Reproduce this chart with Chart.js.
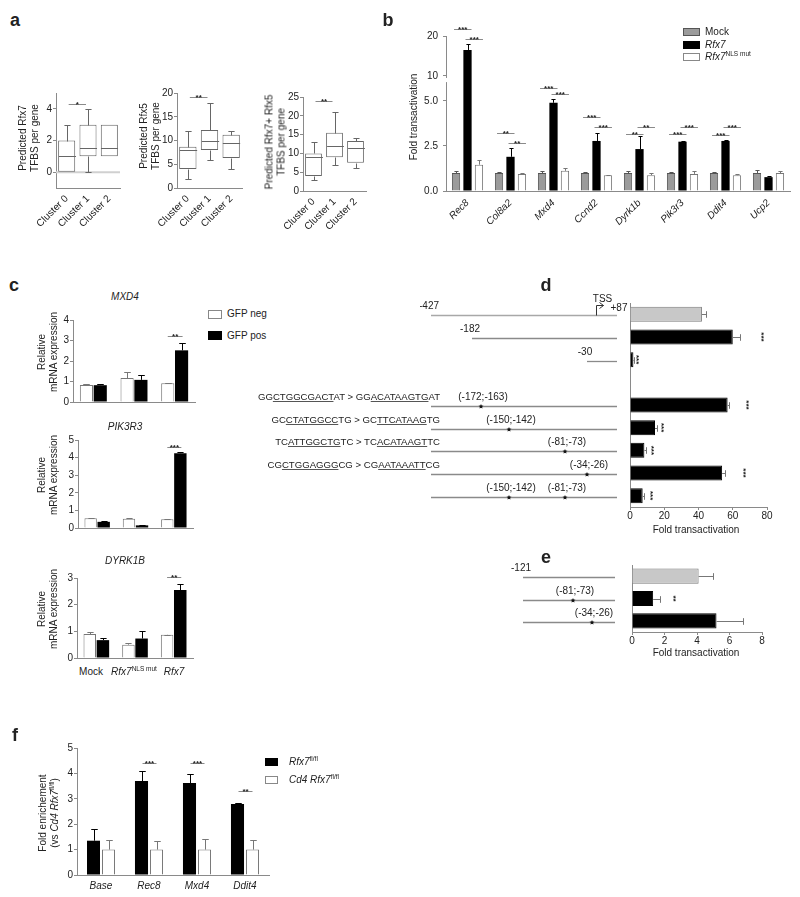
<!DOCTYPE html>
<html>
<head>
<meta charset="utf-8">
<script src="https://cdn.jsdelivr.net/npm/chart.js@4.4.0/dist/chart.umd.min.js"></script>
<style>
body { margin: 0; background: #fff; }
#fig { position: relative; width: 800px; height: 897px; overflow: hidden; font-family: "Liberation Sans", Arial, sans-serif; color: #222; }
#fig canvas { position: absolute; }
.t { position: absolute; white-space: nowrap; font-size: 10px; line-height: 12px; }
.v { position: absolute; white-space: nowrap; font-size: 10px; line-height: 11.5px; text-align: center; transform: translate(-50%, -50%) rotate(-90deg); }
.sq { position: absolute; box-sizing: border-box; }
sup { font-size: 6.5px; line-height: 0; vertical-align: 4px; }
u { text-decoration-color: #555; }
</style>
</head>
<body>
<div id="fig"></div>
<script>
// ---- a: predicted TFBS per gene (min, q1, median, q3, max)
const clusters = ['Cluster 0', 'Cluster 1', 'Cluster 2'];
const rfx7Box = [[0, 0, 1, 2, 3], [0, 1, 1.5, 3, 4], [1, 1, 1.5, 3, 3]];
const rfx5Box = [[2, 4, 8, 8.7, 12], [6, 8, 10, 12.2, 18], [4, 6.3, 9.5, 11.2, 12]];
const bothBox = [[3, 4, 9, 10, 13], [7, 9, 12, 15.5, 21], [6, 7.5, 11.5, 13.3, 14]];
const sigRfx7 = [[0, 1, 4.3, '*']];
const sigRfx5 = [[0, 1, 19.2, '**']];
const sigBoth = [[0, 1, 23.9, '**']];

// ---- b: fold transactivation
const genesB = ['Rec8', 'Col8a2', 'Mxd4', 'Ccnd2', 'Dyrk1b', 'Pik3r3', 'Ddit4', 'Ucp2'];
const mockB = [1.0, 1.0, 1.0, 1.0, 1.0, 1.0, 1.0, 1.0];
const mockErrB = [0.1, 0.05, 0.1, 0.04, 0.1, 0.06, 0.04, 0.15];
const rfx7B = [16.5, 1.9, 4.9, 2.78, 2.33, 2.74, 2.78, 0.77];
const rfx7ErrB = [1.5, 0.5, 0.2, 0.42, 0.75, 0.05, 0.05, 0.08];
const nlsB = [1.46, 0.95, 1.12, 0.88, 0.88, 0.95, 0.88, 1.0];
const nlsErrB = [0.25, 0.07, 0.15, 0.02, 0.1, 0.15, 0.04, 0.1];
const ticksB = [0, 2.5, 5, 10, 20];
const tickLabelsB = ['0.0', '2.5', '5.0', '10', '20'];
// [gene index, dataset a, dataset b, height, label]
const sigB = [
    [0, 0, 1, 21.8, '***'], [0, 1, 2, 19.2, '***'],
    [1, 0, 1, 3.22, '**'], [1, 1, 2, 2.67, '**'],
    [2, 0, 1, 5.72, '***'], [2, 1, 2, 5.39, '***'],
    [3, 0, 1, 4.11, '***'], [3, 1, 2, 3.56, '***'],
    [4, 0, 1, 3.17, '**'], [4, 1, 2, 3.56, '**'],
    [5, 0, 1, 3.17, '***'], [5, 1, 2, 3.56, '***'],
    [6, 0, 1, 3.11, '***'], [6, 1, 2, 3.56, '***']
];

// ---- c: relative mRNA expression
const groupsC = ['Mock', 'Rfx7 NLS mut', 'Rfx7'];
const mxd4Neg = [0.83, 1.17, 0.92], mxd4NegErr = [0.07, 0.28, 0.02];
const mxd4Pos = [0.82, 1.08, 2.52], mxd4PosErr = [0.07, 0.23, 0.37];
const pik3r3Neg = [0.55, 0.52, 0.5], pik3r3NegErr = [0.03, 0.05, 0.01];
const pik3r3Pos = [0.35, 0.15, 4.25], pik3r3PosErr = [0.05, 0.03, 0.05];
const dyrk1bNeg = [0.9, 0.5, 0.87], dyrk1bNegErr = [0.06, 0.08, 0.01];
const dyrk1bPos = [0.67, 0.73, 2.55], dyrk1bPosErr = [0.08, 0.28, 0.23];
const sigMxd4 = [[2, 0, 1, 3.2, '**']];
const sigPik3r3 = [[2, 0, 1, 4.6, '***']];
const sigDyrk1b = [[2, 0, 1, 3.05, '**']];

// ---- d: promoter constructs
const rowsD = ['-427/+87', '-182/+87', '-30/+87', '', 'mut -172', 'mut -150', 'mut -81', 'mut -34', 'mut -150/-81'];
const valsD = [42, 60, 2, null, 57, 14.6, 8.4, 53.8, 7.4];
const errD = [2.5, 4, 0.5, null, 0.8, 1, 1, 1.5, 0.5];
const startsD = [-427, -182, -30, null, -427, -427, -427, -427, -427];
const sitesD = [[], [], [], [], [[-172, -163]], [[-150, -142]], [[-81, -73]], [[-34, -26]], [[-150, -142], [-81, -73]]];
const starsD = [[1, 78, '***'], [2, 4.5, '***'], [4, 69, '***'], [5, 19.5, '***'], [6, 13.5, '***'], [7, 67, '***'], [8, 13, '***']];
const seqsD = [
    [4, 'GG<u>CTGGCGACT</u>AT &gt; GG<u>ACATAAGTG</u>AT'],
    [5, 'GC<u>CTATGGCC</u>TG &gt; GC<u>TTCATAAG</u>TG'],
    [6, 'TC<u>ATTGGCTG</u>TC &gt; TC<u>ACATAAGT</u>TC'],
    [7, 'CG<u>CTGGAGGG</u>CG &gt; CG<u>AATAAATT</u>CG']
];

// ---- e
const rowsE = ['-121/+87', 'mut -81', 'mut -34'];
const valsE = [4.1, 1.3, 5.2];
const errE = [0.9, 0.4, 1.6];
const startsE = [-121, -121, -121];
const sitesE = [[], [[-81, -73]], [[-34, -26]]];
const starsE = [[1, 2.65, '**']];

// ---- f: ChIP enrichment
const targetsF = ['Base', 'Rec8', 'Mxd4', 'Ddit4'];
const floxF = [1.35, 3.7, 3.62, 2.8], floxErrF = [0.46, 0.4, 0.36, 0.02];
const cd4F = [1, 1, 1, 1], cd4ErrF = [0.37, 0.33, 0.43, 0.38];
const sigF = [[1, 0, 1, 4.42, '***'], [2, 0, 1, 4.42, '***'], [3, 0, 1, 3.3, '**']];

const FONT = '"Liberation Sans", Arial, sans-serif';
const AXC = '#8a8a8a';
Chart.defaults.font.family = FONT;
Chart.defaults.font.size = 10;
Chart.defaults.color = '#222';

const fig = document.getElementById('fig');

function put(html, x, y, anchor, css) {
    const d = document.createElement('div');
    d.className = 't';
    d.innerHTML = html;
    const tx = anchor === 'l' ? '0' : anchor === 'r' ? '-100%' : '-50%';
    d.style.cssText = `left:${x}px;top:${y}px;transform:translate(${tx},-50%);` + (css || '');
    fig.appendChild(d);
}

function vput(html, x, y) {
    const d = document.createElement('div');
    d.className = 'v';
    d.innerHTML = html;
    d.style.left = x + 'px';
    d.style.top = y + 'px';
    fig.appendChild(d);
}

function sq(x, y, w, h, fill, border) {
    const d = document.createElement('div');
    d.className = 'sq';
    d.style.cssText = `left:${x}px;top:${y}px;width:${w}px;height:${h}px;background:${fill};border:1px solid ${border};`;
    fig.appendChild(d);
}

// canvas sized so the chart area lands on area = [left, top, right, bottom]
function makeCanvas(area, yw, xh, pad) {
    const c = document.createElement('canvas');
    const left = area[0] - yw - pad.left, top = area[1] - pad.top;
    c.width = area[2] + pad.right - left;
    c.height = area[3] + xh - top;
    c.style.left = left + 'px';
    c.style.top = top + 'px';
    fig.appendChild(c);
    return c;
}

function baseOptions(pad) {
    return {
        responsive: false,
        animation: false,
        devicePixelRatio: 1,
        layout: { padding: pad },
        plugins: { legend: { display: false }, tooltip: { enabled: false } }
    };
}

function zeroPad(s) {
    s.paddingLeft = s.paddingRight = s.paddingTop = s.paddingBottom = 0;
}

function valueAxis(min, max, ticks, size, vertical, extra) {
    extra = extra || {};
    const o = {
        type: 'linear', min, max,
        afterBuildTicks: s => { s.ticks = ticks.map(v => ({ value: v })); },
        afterFit: s => { zeroPad(s); if (vertical) s.width = size; else s.height = size; },
        border: { color: AXC },
        grid: { drawOnChartArea: false, tickLength: 3, tickColor: AXC },
        ticks: { padding: 1, font: { size: 10 } }
    };
    if (extra.ticks) o.ticks = Object.assign({}, o.ticks, extra.ticks);
    if (extra.grid) o.grid = Object.assign({}, o.grid, extra.grid);
    return o;
}

function catAxis(size, vertical, ticks) {
    return {
        type: 'category',
        afterFit: s => { zeroPad(s); if (vertical) s.width = size; else s.height = size; },
        border: { color: AXC },
        grid: { display: false },
        ticks: Object.assign({ padding: 3, font: { size: 10 } }, ticks || {})
    };
}

// one-sided error bars; dataset.errHi holds the value at the cap
const errorBars = {
    id: 'errorBars',
    afterDatasetsDraw(chart) {
        const ctx = chart.ctx;
        const horiz = chart.options.indexAxis === 'y';
        const vs = horiz ? chart.scales.x : chart.scales.y;
        chart.data.datasets.forEach((ds, di) => {
            if (!ds.errHi) return;
            ctx.save();
            ctx.strokeStyle = ds.errColor || '#444';
            ctx.lineWidth = 1;
            chart.getDatasetMeta(di).data.forEach((el, i) => {
                if (ds.data[i] == null || ds.errHi[i] == null) return;
                const p = Math.round(vs.getPixelForValue(ds.errHi[i])) + 0.5;
                ctx.beginPath();
                if (horiz) {
                    const y = Math.round(el.y) + 0.5, h = el.height * 0.22;
                    ctx.moveTo(el.x, y); ctx.lineTo(p, y);
                    ctx.moveTo(p, y - h); ctx.lineTo(p, y + h);
                } else {
                    const x = Math.round(el.x) + 0.5, w = el.width * 0.25;
                    ctx.moveTo(x, el.y); ctx.lineTo(x, p);
                    ctx.moveTo(x - w, p); ctx.lineTo(x + w, p);
                }
                ctx.stroke();
            });
            ctx.restore();
        });
    }
};

// whiskers and medians on top of the floating [q1, q3] bars
const boxPlot = {
    id: 'boxPlot',
    beforeDatasetsDraw(chart) {
        const ds = chart.data.datasets[0];
        if (!ds.zeroLine) return;
        const ctx = chart.ctx, y = chart.scales.y.getPixelForValue(0), a = chart.chartArea;
        ctx.save();
        ctx.strokeStyle = '#d0d0d0';
        ctx.lineWidth = 2;
        ctx.beginPath(); ctx.moveTo(a.left, y); ctx.lineTo(a.right, y); ctx.stroke();
        ctx.restore();
    },
    afterDatasetsDraw(chart) {
        const ds = chart.data.datasets[0];
        if (!ds.stats) return;
        const ctx = chart.ctx, ys = chart.scales.y;
        const py = v => Math.round(ys.getPixelForValue(v)) + 0.5;
        ctx.save();
        ctx.strokeStyle = '#666';
        ctx.lineWidth = 1;
        chart.getDatasetMeta(0).data.forEach((el, i) => {
            const [min, q1, med, q3, max] = ds.stats[i];
            const x = Math.round(el.x) + 0.5, hw = el.width / 2, cw = el.width * 0.18;
            ctx.beginPath();
            ctx.moveTo(x - hw, py(med)); ctx.lineTo(x + hw, py(med));
            if (max > q3) {
                ctx.moveTo(x, py(q3)); ctx.lineTo(x, py(max));
                ctx.moveTo(x - cw, py(max)); ctx.lineTo(x + cw, py(max));
            }
            if (min < q1) {
                ctx.moveTo(x, py(q1)); ctx.lineTo(x, py(min));
                ctx.moveTo(x - cw, py(min)); ctx.lineTo(x + cw, py(min));
            }
            ctx.stroke();
        });
        ctx.restore();
    }
};

// significance bar with asterisks; items: {a: [dataset, index], b: [dataset, index], v, t}
function sigPlugin(items, exL, exR) {
    return {
        id: 'sig',
        afterDatasetsDraw(chart) {
            const ctx = chart.ctx, ys = chart.scales.y;
            ctx.save();
            items.forEach(s => {
                const ea = chart.getDatasetMeta(s.a[0]).data[s.a[1]];
                const eb = chart.getDatasetMeta(s.b[0]).data[s.b[1]];
                const y = Math.round(ys.getPixelForValue(s.v)) + 0.5;
                const x0 = ea.x + exL, x1 = eb.x + exR;
                ctx.strokeStyle = '#8a8a8a';
                ctx.lineWidth = 1;
                ctx.beginPath(); ctx.moveTo(x0, y); ctx.lineTo(x1, y); ctx.stroke();
                ctx.fillStyle = '#222';
                ctx.font = 'bold 8px ' + FONT;
                ctx.textAlign = 'center';
                ctx.textBaseline = 'alphabetic';
                ctx.fillText(s.t, (x0 + x1) / 2, y + 2);
            });
            ctx.restore();
        }
    };
}

// vertical asterisks beside horizontal bars
function vStarPlugin(items) {
    return {
        id: 'vstars',
        afterDatasetsDraw(chart) {
            const ctx = chart.ctx, xs = chart.scales.x, ys = chart.scales.y;
            items.forEach(([row, v, t]) => {
                ctx.save();
                ctx.translate(xs.getPixelForValue(v), ys.getPixelForValue(row));
                ctx.rotate(Math.PI / 2);
                ctx.fillStyle = '#222';
                ctx.font = 'bold 8px ' + FONT;
                ctx.textAlign = 'center';
                ctx.textBaseline = 'middle';
                ctx.fillText(t, 0, 2);
                ctx.restore();
            });
        }
    };
}

function drawStar(ctx, x, y, r) {
    ctx.beginPath();
    for (let i = 0; i < 10; i++) {
        const a = -Math.PI / 2 + i * Math.PI / 5, rr = i % 2 ? r * 0.45 : r;
        ctx.lineTo(x + rr * Math.cos(a), y + rr * Math.sin(a));
    }
    ctx.closePath();
    ctx.fillStyle = '#111';
    ctx.fill();
}

function interp(knots, p) {
    for (let i = 1; i < knots.length; i++) {
        if (p <= knots[i][0]) {
            const [p0, x0] = knots[i - 1], [p1, x1] = knots[i];
            return x0 + (x1 - x0) * (p - p0) / (p1 - p0);
        }
    }
    return knots[knots.length - 1][1];
}

// promoter schematics drawn left of the bars; knots map bp position -> px offset from the axis (not to scale)
function constructPlugin(starts, sites, knots, tss) {
    return {
        id: 'constructs',
        afterDraw(chart) {
            const ctx = chart.ctx, ys = chart.scales.y, L = chart.chartArea.left;
            const xp = p => L + interp(knots, p);
            const xEnd = xp(87);
            ctx.save();
            ctx.font = '10px ' + FONT;
            ctx.textAlign = 'center';
            ctx.textBaseline = 'middle';
            starts.forEach((st, r) => {
                if (st == null) return;
                const y = Math.round(ys.getPixelForValue(r)) + 1.5;
                ctx.strokeStyle = r === 0 && tss ? '#a8a8a8' : '#8a8a8a';
                ctx.lineWidth = 1.3;
                ctx.beginPath(); ctx.moveTo(xp(st), y); ctx.lineTo(xEnd, y); ctx.stroke();
                ctx.fillStyle = '#222';
                if (!sites[r].length) ctx.fillText(String(st), xp(st) - 2, y - 9);
                sites[r].forEach(([a, b]) => {
                    const x = xp((a + b) / 2);
                    drawStar(ctx, x, y, 2.6);
                    ctx.fillStyle = '#222';
                    ctx.fillText(`(${a};${b})`, x + 2, y - 9);
                });
                if (tss && r === 0) {
                    const xt = Math.round(xp(0)) + 0.5;
                    ctx.strokeStyle = '#333';
                    ctx.lineWidth = 1;
                    ctx.beginPath();
                    ctx.moveTo(xt, y); ctx.lineTo(xt, y - 10); ctx.lineTo(xt + 7, y - 10);
                    ctx.moveTo(xt + 3, y - 13); ctx.lineTo(xt + 7, y - 10); ctx.lineTo(xt + 3, y - 7);
                    ctx.stroke();
                    ctx.fillText('TSS', xt + 6, y - 16);
                    ctx.textAlign = 'left';
                    ctx.fillText('+87', xt + 14, y - 7);
                    ctx.textAlign = 'center';
                }
            });
            ctx.restore();
        }
    };
}

// ---------- a
function boxChart(area, stats, ymin, ymax, yticks, sig, zeroLine) {
    const pad = { left: 0, top: 8, right: 4, bottom: 0 };
    const cv = makeCanvas(area, 22, 55, pad);
    const opts = baseOptions(pad);
    opts.datasets = { bar: { categoryPercentage: 0.8, barPercentage: 1 } };
    opts.scales = {
        x: catAxis(55, false, { minRotation: 45, maxRotation: 45, autoSkip: false, padding: -3 }),
        y: valueAxis(ymin, ymax, yticks, 22, true)
    };
    new Chart(cv, {
        type: 'bar',
        data: {
            labels: clusters,
            datasets: [{
                data: stats.map(s => [s[1], s[3]]),
                stats: stats,
                zeroLine: zeroLine,
                backgroundColor: '#fff',
                borderColor: '#666',
                borderWidth: 1,
                borderSkipped: false
            }]
        },
        options: opts,
        plugins: [boxPlot, sigPlugin(sig.map(s => ({ a: [0, s[0]], b: [0, s[1]], v: s[2], t: s[3] })), 2, -2)]
    });
}

boxChart([56, 93, 120, 188], rfx7Box, -1, 5, [0, 2, 4], sigRfx7, true);
boxChart([177, 93, 242, 188], rfx5Box, 0, 20, [0, 5, 10, 15, 20], sigRfx5, false);
boxChart([303, 97, 366, 191], bothBox, 0, 25, [0, 5, 10, 15, 20, 25], sigBoth, false);

vput('Predicted Rfx7<br>TFBS per gene', 28, 138);
vput('Predicted Rfx5<br>TFBS per gene', 149, 136);
vput('Predicted Rfx7+ Rfx5<br>TFBS per gene', 275, 142);

// ---------- b (broken y axis: lower part 0-6, upper part 10-20 compressed)
function brk(v) {
    return v <= 6.05 ? v : 6.39 + (v - 10) * 0.222;
}
(function () {
    const pad = { left: 0, top: 16, right: 8, bottom: 0 };
    const area = [446, 36, 790, 191];
    const cv = makeCanvas(area, 32, 45, pad);
    const opts = baseOptions(pad);
    opts.datasets = { bar: { categoryPercentage: 0.8, barPercentage: 0.72 } };
    opts.scales = {
        x: catAxis(45, false, { minRotation: 45, maxRotation: 45, autoSkip: false, padding: -2, font: { size: 10, style: 'italic' } }),
        y: valueAxis(0, brk(20), ticksB.map(brk), 32, true, { ticks: { padding: 5, callback: (v, i) => tickLabelsB[i] } })
    };
    const axisBreak = {
        id: 'axisBreak',
        afterDraw(chart) {
            const ys = chart.scales.y, x = chart.chartArea.left, ctx = chart.ctx;
            const yLo = ys.getPixelForValue(6.05), yHi = ys.getPixelForValue(6.28);
            ctx.save();
            ctx.fillStyle = '#fff';
            ctx.fillRect(x - 5, yHi, 7, yLo - yHi);
            ctx.restore();
        }
    };
    new Chart(cv, {
        type: 'bar',
        data: {
            labels: genesB,
            datasets: [
                { label: 'Mock', data: mockB.map(brk), errHi: mockB.map((v, i) => brk(v + mockErrB[i])),
                  backgroundColor: '#9b9b9b', borderColor: '#555', borderWidth: 1, errColor: '#555' },
                { label: 'Rfx7', data: rfx7B.map(brk), errHi: rfx7B.map((v, i) => brk(v + rfx7ErrB[i])),
                  backgroundColor: '#000', borderColor: '#000', borderWidth: 0, errColor: '#000' },
                { label: 'Rfx7 NLS mut', data: nlsB.map(brk), errHi: nlsB.map((v, i) => brk(v + nlsErrB[i])),
                  backgroundColor: '#fff', borderColor: '#777', borderWidth: 1, errColor: '#777' }
            ]
        },
        options: opts,
        plugins: [errorBars, axisBreak,
            sigPlugin(sigB.map(s => ({ a: [s[1], s[0]], b: [s[2], s[0]], v: brk(s[3]), t: s[4] })), -2, 4)]
    });
})();

vput('Fold transactivation', 414, 117);
sq(683, 28, 17, 8, '#9b9b9b', '#555');
put('Mock', 705, 32, 'l');
sq(683, 41, 17, 8, '#000', '#000');
put('<i>Rfx7</i>', 705, 45, 'l');
sq(683, 53, 17, 8, '#fff', '#888');
put('<i>Rfx7</i><sup>NLS mut</sup>', 705, 57, 'l');

// ---------- c
function pairChart(area, yticks, neg, negErr, pos, posErr, sig) {
    const pad = { left: 0, top: 8, right: 4, bottom: 0 };
    const cv = makeCanvas(area, 20, 4, pad);
    const opts = baseOptions(pad);
    opts.datasets = { bar: { categoryPercentage: 0.68, barPercentage: 0.95 } };
    opts.scales = {
        x: catAxis(4, false, { display: false }),
        y: valueAxis(0, yticks[yticks.length - 1], yticks, 20, true)
    };
    new Chart(cv, {
        type: 'bar',
        data: {
            labels: groupsC,
            datasets: [
                { label: 'GFP neg', data: neg, errHi: neg.map((v, i) => v + negErr[i]),
                  backgroundColor: '#fff', borderColor: '#777', borderWidth: 1, errColor: '#777' },
                { label: 'GFP pos', data: pos, errHi: pos.map((v, i) => v + posErr[i]),
                  backgroundColor: '#000', borderColor: '#000', borderWidth: 0, errColor: '#000' }
            ]
        },
        options: opts,
        plugins: [errorBars, sigPlugin(sig.map(s => ({ a: [s[1], s[0]], b: [s[2], s[0]], v: s[3], t: s[4] })), 0, 1)]
    });
}

pairChart([73, 320, 195, 402], [0, 1, 2, 3, 4], mxd4Neg, mxd4NegErr, mxd4Pos, mxd4PosErr, sigMxd4);
pairChart([78, 440, 193, 528], [0, 1, 2, 3, 4, 5], pik3r3Neg, pik3r3NegErr, pik3r3Pos, pik3r3PosErr, sigPik3r3);
pairChart([77, 578, 193, 658], [0, 1, 2, 3], dyrk1bNeg, dyrk1bNegErr, dyrk1bPos, dyrk1bPosErr, sigDyrk1b);

put('<i>MXD4</i>', 125, 297);
put('<i>PIK3R3</i>', 125, 427);
put('<i>DYRK1B</i>', 125, 561);
vput('Relative<br>mRNA expression', 47, 352);
vput('Relative<br>mRNA expression', 47, 475);
vput('Relative<br>mRNA expression', 47, 609);
put('Mock', 91, 672);
put('<i>Rfx7</i><sup>NLS mut</sup>', 134, 672);
put('<i>Rfx7</i>', 174, 672);
sq(208, 310, 14, 9, '#fff', '#888');
put('GFP neg', 227, 314, 'l');
sq(208, 331, 14, 9, '#000', '#000');
put('GFP pos', 227, 336, 'l');

// ---------- d / e
function hbarChart(area, rows, vals, errs, xmax, xticks, starts, sites, knots, stars, tss, catPct) {
    const pad = { left: area[0] - 420, top: 22, right: 800 - area[2], bottom: 0 };
    const cv = makeCanvas(area, 0, 20, pad);
    const opts = baseOptions(pad);
    opts.indexAxis = 'y';
    opts.datasets = { bar: { categoryPercentage: catPct, barPercentage: 1 } };
    opts.scales = {
        y: catAxis(0, true, { display: false }),
        x: valueAxis(0, xmax, xticks, 20, false, { ticks: { padding: 0 } })
    };
    const chart = new Chart(cv, {
        type: 'bar',
        data: {
            labels: rows,
            datasets: [{
                data: vals,
                errHi: vals.map((v, i) => v == null ? null : v + errs[i]),
                backgroundColor: vals.map((v, i) => i === 0 ? '#c8c8c8' : '#000'),
                borderColor: vals.map((v, i) => i === 0 ? '#7a7a7a' : '#000'),
                borderWidth: 1,
                errColor: '#777'
            }]
        },
        options: opts,
        plugins: [errorBars, vStarPlugin(stars), constructPlugin(starts, sites, knots, tss)]
    });
    return { chart, top: area[1] - pad.top };
}

const knotsD = [[-427, -199], [-182, -158], [-167.5, -149], [-146, -121], [-77, -65], [-30, -43], [0, -34], [87, -13]];
const knotsE = [[-121, -109], [-77, -59], [-30, -40], [87, -17]];

const dPanel = hbarChart([630, 303, 767, 507], rowsD, valsD, errD, 80, [0, 20, 40, 60, 80],
    startsD, sitesD, knotsD, starsD, true, 0.66);
hbarChart([632, 565, 762, 632], rowsE, valsE, errE, 8, [0, 2, 4, 6, 8],
    startsE, sitesE, knotsE, starsE, false, 0.68);

seqsD.forEach(([row, html]) => {
    const y = dPanel.top + dPanel.chart.scales.y.getPixelForValue(row) - 8;
    put(html, 440, y, 'r', 'font-size:9.6px;');
});
put('Fold transactivation', 696, 530);
put('Fold transactivation', 696, 653);

// ---------- f
(function () {
    const pad = { left: 0, top: 6, right: 4, bottom: 0 };
    const cv = makeCanvas([77, 748, 269, 875], 22, 22, pad);
    const opts = baseOptions(pad);
    opts.datasets = { bar: { categoryPercentage: 0.625, barPercentage: 0.87 } };
    opts.scales = {
        x: catAxis(22, false, { padding: -3, font: { size: 10, style: 'italic' } }),
        y: valueAxis(0, 5, [0, 1, 2, 3, 4, 5], 22, true)
    };
    new Chart(cv, {
        type: 'bar',
        data: {
            labels: targetsF,
            datasets: [
                { label: 'Rfx7 fl/fl', data: floxF, errHi: floxF.map((v, i) => v + floxErrF[i]),
                  backgroundColor: '#000', borderColor: '#000', borderWidth: 0, errColor: '#000' },
                { label: 'Cd4 Rfx7 fl/fl', data: cd4F, errHi: cd4F.map((v, i) => v + cd4ErrF[i]),
                  backgroundColor: '#fff', borderColor: '#777', borderWidth: 1, errColor: '#777' }
            ]
        },
        options: opts,
        plugins: [errorBars, sigPlugin(sigF.map(s => ({ a: [s[1], s[0]], b: [s[2], s[0]], v: s[3], t: s[4] })), 1, 0)]
    });
})();

vput('Fold enrichement<br>(vs <i>Cd4 Rfx7</i><sup>fl/fl</sup>)', 48, 813);
sq(265, 758, 13, 8, '#000', '#000');
put('<i>Rfx7</i><sup>fl/fl</sup>', 289, 762, 'l');
sq(265, 776, 13, 8, '#fff', '#888');
put('<i>Cd4 Rfx7</i><sup>fl/fl</sup>', 289, 780, 'l');

// panel letters
[['a', 15, 20], ['b', 388, 20], ['c', 14, 285], ['d', 546, 285], ['e', 546, 557], ['f', 15, 735]].forEach(([l, x, y]) => {
    put(l, x, y, 'c', 'font-size:18px;font-weight:bold;line-height:20px;');
});
</script>
</body>
</html>
